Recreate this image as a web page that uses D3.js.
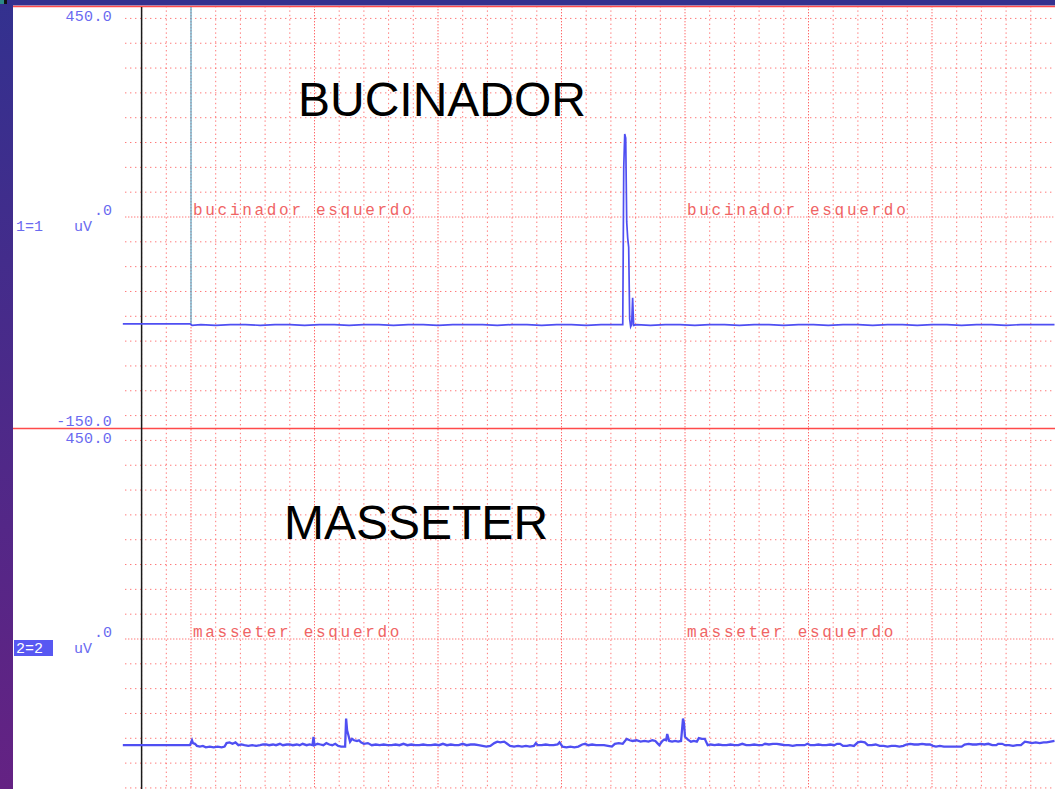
<!DOCTYPE html>
<html>
<head>
<meta charset="utf-8">
<script src="https://cdnjs.cloudflare.com/ajax/libs/d3/7.8.5/d3.min.js"></script>
<style>
  body { margin: 0; background: #fff; overflow: hidden; }
  svg { display: block; }
</style>
</head>
<body>
<div id="chart"></div>
<script>
// channel names / titles
const titles = ["BUCINADOR", "MASSETER"]
const channelNames = ["bucinador esquerdo", "masseter esquerdo"]
const channelIds = ["1=1", "2=2"]
// y axis labels (uV)
const yTopLabels = ["450.0", "450.0"]
const yMidLabels = [".0", ".0"]
const yBottomLabels = ["-150.0", ""]
const yDomain = [-150, 450]

// time in ms, value in uV
const bucinadorTrace = [
    [-69, -2], [-1, -2], [1, -4], [10, -3], [25, -4], [40, -3], [55, -3], [70, -4], [85, -3], [100, -3],
    [115, -4], [130, -3], [145, -3], [160, -4], [175, -3], [190, -3], [205, -4], [220, -3], [235, -3],
    [250, -4], [265, -3], [280, -3], [295, -3], [310, -4], [325, -3], [340, -3], [355, -4], [370, -3],
    [385, -3], [400, -4], [415, -3], [430, -3], [436, -3], [437, -3], [438, 220], [439, 268], [440, 262],
    [441, 143], [442, 120], [443, 107], [444, 5], [445, -6], [446, -3], [447, 35], [448, -4], [451, -3],
    [465, -4], [480, -3], [495, -3], [510, -4], [525, -3], [540, -3], [555, -4], [570, -3], [585, -3],
    [600, -4], [615, -3], [630, -3], [645, -4], [660, -3], [675, -3], [690, -4], [705, -3], [720, -3],
    [735, -4], [750, -3], [765, -3], [780, -4], [795, -3], [810, -3], [825, -4], [840, -3], [855, -3], [874, -3]
]

const masseterTrace = [
    [-69, -1], [-1, -1], [1, 6], [2, 2], [4, 1], [6, -2], [9, -3], [12, -2], [15, -4], [19, -3], [23, -4],
    [27, -3], [31, -4], [34, -3], [36, 2], [39, 3], [42, 1], [45, 3], [48, -1], [51, 0], [54, -1], [58, -2],
    [62, -1], [66, -2], [70, -1], [73, 0], [76, 0], [79, -1], [83, 0], [86, -1], [90, 1], [93, -1], [97, 0],
    [100, 0], [103, -1], [107, 0], [110, -1], [113, 1], [117, -1], [120, 0], [123, -1], [124, 11], [125, -1],
    [128, 1], [131, 0], [134, -1], [137, 2], [140, 0], [143, -1], [146, 1], [149, -2], [152, -3], [156, -3],
    [157, 37], [158, 20], [159, 15], [161, 4], [163, 8], [165, 6], [168, 5], [170, 6], [172, 3], [175, 1],
    [179, 2], [183, -1], [187, 0], [191, -1], [195, 0], [199, -1], [203, -1], [207, 0], [211, -1], [215, 1],
    [219, -1], [223, 0], [227, -1], [231, -1], [235, 0], [239, -1], [243, -1], [247, 0], [251, -1], [255, 1],
    [259, -1], [263, 0], [267, -1], [271, -1], [275, 1], [279, -1], [283, 0], [287, 0], [291, -1], [295, -2],
    [299, -3], [303, -2], [307, 2], [310, 4], [313, 3], [317, 4], [320, 1], [323, -2], [327, -3], [331, -2],
    [335, -3], [339, -2], [343, -3], [347, -2], [349, 2], [351, -1], [355, -1], [359, 0], [363, -1], [367, -1],
    [371, 0], [373, 3], [376, -3], [380, -4], [384, -3], [388, -4], [392, -3], [396, 0], [399, 1], [402, -1],
    [406, 0], [410, -1], [414, -1], [418, -1], [422, -2], [426, -3], [429, 1], [433, 2], [437, 1], [441, 8],
    [444, 6], [447, 5], [451, 6], [455, 4], [459, 5], [463, 4], [467, 6], [470, 5], [472, 2], [474, -1],
    [477, 5], [479, 7], [481, 6], [482, 15], [484, 5], [487, 4], [490, 5], [493, 4], [496, 5], [498, 37],
    [499, 30], [500, 11], [503, 7], [506, 4], [509, 5], [512, 4], [514, 9], [517, 8], [520, 8], [523, -1],
    [526, 0], [530, -1], [534, 0], [538, -1], [542, -1], [546, 0], [550, -1], [554, -1], [558, 1], [562, -1],
    [566, -1], [570, 0], [574, -1], [578, -1], [581, 1], [585, 0], [589, 1], [593, 1], [597, 0], [601, -1],
    [605, -1], [609, -2], [613, -1], [617, -1], [621, -1], [624, 1], [627, -1], [631, -1], [635, 0], [639, -1],
    [643, -1], [647, 0], [651, -1], [654, 1], [657, 1], [660, -2], [664, -2], [667, -1], [671, -2], [675, 3],
    [678, 4], [682, 3], [685, -1], [689, -1], [693, 0], [697, -2], [701, -2], [705, -3], [709, -2], [713, -2],
    [717, -3], [721, -2], [724, 0], [728, 1], [732, 0], [736, 0], [740, 1], [744, 0], [748, 0], [751, -2],
    [754, -3], [758, -2], [762, -3], [765, -3], [770, -3], [775, -3], [780, -3], [783, 0], [787, 1], [791, 0],
    [795, 0], [799, 1], [803, 0], [807, 1], [811, -1], [815, -1], [817, 1], [821, 1], [824, -1], [828, -1],
    [832, -2], [836, -1], [840, -1], [844, 4], [848, 3], [851, 2], [855, 3], [859, 2], [863, 3], [866, 3],
    [870, 4], [874, 5]
]

const width = 1055
const height = 789

const panels = [
    { top: 6, bottom: 428, trace: bucinadorTrace, strokeWidth: 1.7 },
    { top: 428, bottom: 850, trace: masseterTrace, strokeWidth: 2.3 }
]

const x = d3.scaleLinear()
    .domain([-50, 875])
    .range([141.6, 141.6 + 37 * 24.7])

let svg = d3.select('#chart')
    .append('svg')
        .attr('width', width)
        .attr('height', height)

// Window frame
const grad = svg.append('defs').append('linearGradient')
    .attr('id', 'frameGrad')
    .attr('x1', 0).attr('y1', 0).attr('x2', 0).attr('y2', 1)
grad.append('stop').attr('offset', '0%').attr('stop-color', '#33318f')
grad.append('stop').attr('offset', '100%').attr('stop-color', '#642283')

svg.append('rect').attr('x', 0).attr('y', 0).attr('width', width).attr('height', height).attr('fill', '#fff')
svg.append('rect').attr('x', 0).attr('y', 0).attr('width', 13).attr('height', height).attr('fill', 'url(#frameGrad)')
svg.append('rect').attr('x', 0).attr('y', 0).attr('width', width).attr('height', 5.5).attr('fill', '#34318f')
svg.append('rect').attr('x', 0).attr('y', 0).attr('width', 4).attr('height', 4).attr('fill', '#2d8a8a')
svg.append('rect').attr('x', 4).attr('y', 0).attr('width', 3).attr('height', 4).attr('fill', '#111')

const gridColor = '#ff6262'

// Vertical grid (one line per 25 ms division)
const xTicks = d3.range(-50, 876, 25)
svg.append('g')
    .selectAll('line')
    .data(xTicks)
    .enter()
    .append('line')
        .attr('x1', d => x(d)).attr('x2', d => x(d))
        .attr('y1', 6).attr('y2', height)
        .attr('stroke', gridColor)
        .attr('stroke-width', 1)
        .attr('stroke-dasharray', d => (d >= 0 && d % 125 === 0) ? '1.4,1.6' : '1.4,3')
        .attr('opacity', d => (d >= 0 && d % 125 === 0) ? 0.95 : 0.85)

panels.forEach((p, i) => {
    const y = d3.scaleLinear().domain(yDomain).range([p.bottom, p.top])
    p.y = y

    const mid = (yDomain[0] + yDomain[1]) / 2
    const step = (yDomain[1] - yDomain[0]) / 17
    const yTicks = d3.range(-8, 9).map(k => mid + k * step)

    svg.append('g')
        .selectAll('line')
        .data(yTicks)
        .enter()
        .append('line')
            .attr('x1', 125).attr('x2', width)
            .attr('y1', d => y(d)).attr('y2', d => y(d))
            .attr('stroke', gridColor)
            .attr('stroke-width', 1)
            .attr('stroke-dasharray', d => d === mid ? '1.4,1.6' : '1.4,3.6')
            .attr('opacity', 0.85)
})

// Red separators
svg.append('line').attr('x1', 13).attr('x2', width).attr('y1', 6.5).attr('y2', 6.5)
    .attr('stroke', '#ff4a4a').attr('stroke-width', 1.5)
svg.append('line').attr('x1', 13).attr('x2', width).attr('y1', 428.5).attr('y2', 428.5)
    .attr('stroke', '#ff4a4a').attr('stroke-width', 1.5)

// Black time origin line
svg.append('line').attr('x1', x(-50)).attr('x2', x(-50)).attr('y1', 7).attr('y2', height)
    .attr('stroke', '#1a1a1a').attr('stroke-width', 1.5)

// Cursor line in channel 1
svg.append('line').attr('x1', x(0)).attr('x2', x(0))
    .attr('y1', 7).attr('y2', panels[0].y(bucinadorTrace[0][1]))
    .attr('stroke', '#5aa6c4').attr('stroke-width', 1.2)

// Traces
panels.forEach((p, i) => {
    const clipId = 'clip' + i
    svg.append('clipPath').attr('id', clipId)
        .append('rect')
            .attr('x', 13).attr('y', p.top)
            .attr('width', width - 13).attr('height', Math.min(p.bottom, height) - p.top)

    const line = d3.line()
        .x(d => x(d[0]))
        .y(d => p.y(d[1]))

    svg.append('path')
        .datum(p.trace)
        .attr('clip-path', 'url(#' + clipId + ')')
        .attr('fill', 'none')
        .attr('stroke', '#4f4ff2')
        .attr('stroke-width', p.strokeWidth)
        .attr('stroke-linejoin', 'miter')
        .attr('d', line)
})

// Channel name labels (red, mono)
panels.forEach((p, i) => {
    const yMid = p.y((yDomain[0] + yDomain[1]) / 2)
    ;[0, 500].forEach(t => {
        svg.append('text')
            .attr('x', x(t) + 2)
            .attr('y', yMid - 2)
            .attr('font-family', '"Liberation Mono", monospace')
            .attr('font-size', 16)
            .attr('letter-spacing', 2.7)
            .attr('fill', '#f06464')
            .text(channelNames[i])
    })

    // Titles
    svg.append('text')
        .attr('x', i === 0 ? 298 : 284)
        .attr('y', i === 0 ? 116 : 539)
        .attr('font-family', '"Liberation Sans", Arial, sans-serif')
        .attr('font-size', 48)
        .attr('fill', '#000')
        .text(titles[i])
})

// Y axis labels (blue)
const labelColor = '#6a6af0'
const mono = '"Liberation Mono", monospace'

panels.forEach((p, i) => {
    const yMid = p.y((yDomain[0] + yDomain[1]) / 2)

    svg.append('text')
        .attr('x', 112).attr('y', p.top + 15)
        .attr('text-anchor', 'end')
        .attr('font-family', mono).attr('font-size', 15)
        .attr('letter-spacing', 0.3)
        .attr('fill', labelColor)
        .text(yTopLabels[i])

    svg.append('text')
        .attr('x', 112).attr('y', yMid - 2)
        .attr('text-anchor', 'end')
        .attr('font-family', mono).attr('font-size', 15)
        .attr('fill', labelColor)
        .text(yMidLabels[i])

    if (yBottomLabels[i] !== "") {
        svg.append('text')
            .attr('x', 112).attr('y', p.bottom - 2)
            .attr('text-anchor', 'end')
            .attr('font-family', mono).attr('font-size', 15)
            .attr('letter-spacing', 0.3)
            .attr('fill', labelColor)
            .text(yBottomLabels[i])
    }

    // Channel id, highlighted for the active channel
    if (i === 1) {
        svg.append('rect')
            .attr('x', 14).attr('y', yMid + 1)
            .attr('width', 39).attr('height', 16)
            .attr('fill', '#5858f2')
    }
    svg.append('text')
        .attr('x', 16).attr('y', yMid + 14)
        .attr('font-family', mono).attr('font-size', 15)
        .attr('fill', i === 1 ? '#fff' : labelColor)
        .text(channelIds[i])

    svg.append('text')
        .attr('x', 74).attr('y', yMid + 14)
        .attr('font-family', mono).attr('font-size', 15)
        .attr('fill', labelColor)
        .text('uV')
})
</script>
</body>
</html>
